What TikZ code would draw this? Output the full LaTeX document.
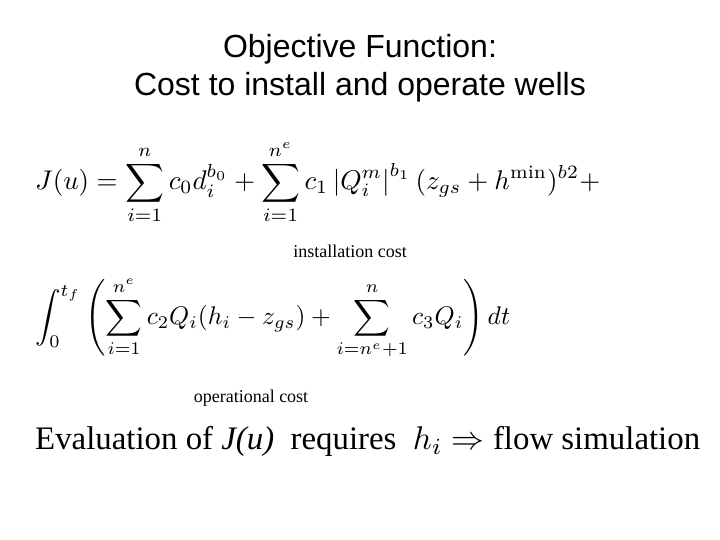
\documentclass[tikz,border=0pt]{standalone}
\usepackage{amsmath}
\usepackage{fontspec}
\setsansfont{Liberation Sans}
\newfontfamily\slidefont{Liberation Serif}
\usetikzlibrary{positioning}
\tikzset{%
	title text/.style={font=\sffamily\fontsize{32}{38}\selectfont, align=center},
	formula/.style={inner sep=0pt},
	cost label/.style={font=\slidefont\fontsize{18}{21}\selectfont, inner sep=0pt},
}
\begin{document}
\begin{tikzpicture}[x=1pt, y=-1pt]
			\useasboundingbox[fill=white] (0,0) rectangle (720,540);
			% slide title
			\node[title text] (title) at (360,68) {Objective Function:\\Cost to install and operate wells};
			
			% installation part
			\node[formula, anchor=west] (inst) at (35,182) {\resizebox{565pt}{!}{$\displaystyle J(u) = \sum_{i=1}^{n} c_0 d_i^{b_0} + \sum_{i=1}^{n^e} c_1 \left|Q_i^m\right|^{b_1} (z_{gs} + h^{\min})^{b2} +$}};
			\node[cost label] (instlabel) at (350,251) {installation cost};
			
			% operational part
			\node[formula, anchor=west] (oper) at (35,318) {\resizebox{475pt}{!}{$\displaystyle \int_0^{t_f} \left( \sum_{i=1}^{n^e} c_2 Q_i (h_i - z_{gs}) + \sum_{i=n^e+1}^{n} c_3 Q_i \right) dt$}};
			\node[cost label] (operlabel) at (251,398) {operational cost};
			
			% closing remark
			\node[formula, anchor=west] (remark) at (35,441) {\resizebox{665pt}{!}{\slidefont Evaluation of \textit{J(u)}\enspace requires\enspace $h_i \Rightarrow$ flow simulation}};
		\end{tikzpicture}
\end{document}
